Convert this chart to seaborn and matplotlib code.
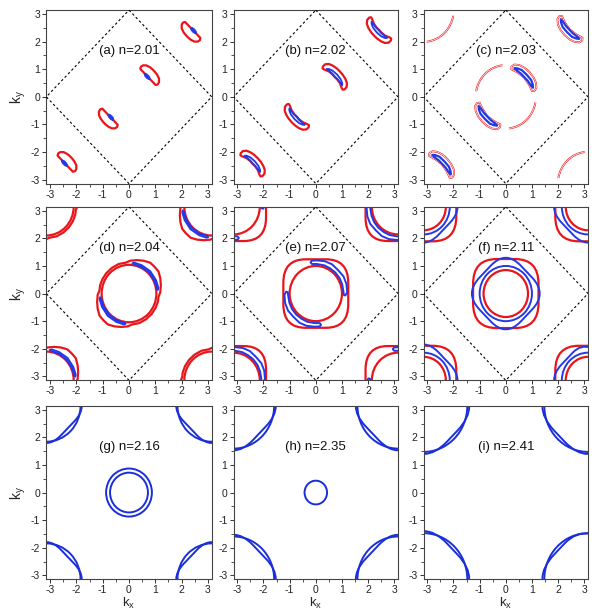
import numpy as np
import matplotlib
matplotlib.use("Agg")
import matplotlib.pyplot as plt
import seaborn as sns
from matplotlib.patches import Polygon, Ellipse, Arc, FancyBboxPatch
from matplotlib.transforms import Affine2D
from matplotlib.ticker import MultipleLocator

sns.set_theme(style="ticks")
plt.rcParams['font.family'] = ['Liberation Sans', 'DejaVu Sans']
plt.rcParams['axes.unicode_minus'] = False
plt.rcParams['mathtext.fontset'] = 'custom'
plt.rcParams['mathtext.rm'] = 'Liberation Sans'
plt.rcParams['mathtext.it'] = 'Liberation Sans'

PI = np.pi
RED = '#e8151b'
BLUE = '#2339e6'
DBLUE = '#1b2fd8'

panel_labels = ['(a) n=2.01', '(b) n=2.02', '(c) n=2.03',
                '(d) n=2.04', '(e) n=2.07', '(f) n=2.11',
                '(g) n=2.16', '(h) n=2.35', '(i) n=2.41']
tick_values = [-3, -2, -1, 0, 1, 2, 3]

# Brillouin-zone diamond
bz_kx = [0, PI, 0, -PI, 0]
bz_ky = [PI, 0, -PI, 0, PI]

# (a) half-moon hole pocket (first quadrant), red outline
a_red_kx = [0.43, 0.45, 0.53, 0.66, 0.80, 0.91, 0.98, 1.07, 1.14, 1.14, 1.09, 1.01]
a_red_ky = [1.01, 1.09, 1.14, 1.14, 1.07, 0.98, 0.91, 0.80, 0.66, 0.53, 0.45, 0.43]
# (a) small blue pocket: centre, length, width
a_blue_c = (0.69, 0.74)
a_blue_size = (0.30, 0.13)

# (b) banana pockets
b_red_kx = [0.26, 0.27, 0.36, 0.50, 0.65, 0.80, 0.92, 1.03, 1.13, 1.19, 1.18, 1.10, 1.03, 0.99, 0.92, 0.81, 0.72, 0.64, 0.50, 0.32]
b_red_ky = [1.03, 1.10, 1.18, 1.19, 1.13, 1.03, 0.92, 0.80, 0.65, 0.50, 0.36, 0.27, 0.26, 0.32, 0.50, 0.64, 0.72, 0.81, 0.92, 0.99]
b_blue_kx = [0.42, 0.50, 0.64, 0.81, 0.95, 1.01, 1.01, 0.94, 0.85, 0.73, 0.62, 0.50]
b_blue_ky = [1.01, 1.01, 0.95, 0.81, 0.64, 0.50, 0.42, 0.50, 0.62, 0.73, 0.85, 0.94]

# (c) banana pockets (double red line) + open arcs
c_red_kx = [0.21, 0.22, 0.33, 0.52, 0.72, 0.90, 1.05, 1.15, 1.17, 1.10, 1.00, 0.88, 0.70, 0.45]
c_red_ky = [1.00, 1.10, 1.17, 1.15, 1.05, 0.90, 0.72, 0.52, 0.33, 0.22, 0.21, 0.45, 0.70, 0.88]
c_blue_kx = [0.33, 0.45, 0.61, 0.80, 0.97, 1.03, 1.04, 0.93, 0.84, 0.71, 0.58, 0.45]
c_blue_ky = [1.04, 1.03, 0.97, 0.80, 0.61, 0.45, 0.33, 0.45, 0.58, 0.71, 0.84, 0.93]
c_arc_r = 1.15
c_arc_deg = (96, 170)

# (d) red: circle + lobed loop (half of it listed, other half by inversion), blue banana
d_red_circle_r = 1.04
d_red_kx = [1.12, 1.19, 1.21, 1.19, 1.12, 0.97, 0.80, 0.55, 0.30, 0.05, -0.12, -0.39, -0.65, -0.86, -1.01, -1.10]
d_red_ky = [-0.12, 0.05, 0.30, 0.55, 0.80, 0.97, 1.12, 1.19, 1.21, 1.19, 1.12, 1.07, 0.93, 0.74, 0.52, 0.29]
d_blue_kx = [1.10, 1.12, 1.03, 0.81, 0.48, 0.20, 0.13, 0.19, 0.45, 0.76, 0.97, 1.05]
d_blue_ky = [0.13, 0.20, 0.48, 0.81, 1.03, 1.12, 1.10, 1.05, 0.97, 0.76, 0.45, 0.19]

# (e) red: rounded square + circle, blue wide banana
e_red_outer = (1.24, 0.85)
e_red_inner_r = 1.00
e_blue_kx = [1.13, 1.20, 1.17, 1.06, 0.85, 0.62, 0.35, 0.05, -0.15, -0.20, -0.15, 0.05, 0.33, 0.55, 0.75, 0.91, 1.01, 1.06, 1.07]
e_blue_ky = [-0.07, 0.05, 0.35, 0.62, 0.85, 1.06, 1.17, 1.20, 1.19, 1.13, 1.07, 1.07, 1.02, 0.91, 0.76, 0.56, 0.33, 0.05, -0.05]

# (f)
f_red_inner_r = 0.85
f_red_outer = (1.25, 0.90)     # half width, corner rounding
f_blue_inner_r = 1.00
f_blue_outer = (1.12, 0.81)    # half width (rotated 45 deg), rounding

# (g)-(i) blue rings around Gamma and lenses at the corners
g_ring_r = [0.87, 0.72]
h_ring_r = [0.43]
i_ring_r = []
corner_d = [1.30, 1.55, 1.67]        # where lenses meet the zone edge
corner_flat = [1.15, 1.40, 1.55]     # diagonal reach of the flatter arc

corners = [(-PI, -PI), (-PI, PI), (PI, -PI), (PI, PI)]

W, H = 595, 612
fig = plt.figure(figsize=(W / 100, H / 100), dpi=100)
lefts = [46.3, 233.6, 423.6]
widths = [165.4, 164.4, 164.4]
tops = [10.1, 206.8, 405.8]
height = 173.5


def tr(ax, dx=0.0, dy=0.0, flip=False, rot=0.0):
    t = Affine2D().rotate_deg(rot)
    if flip:
        t = t.scale(-1, -1)
    return t.translate(dx, dy) + ax.transData


def everywhere(ax, factory):
    """Draw a shape at Gamma and at the four zone corners."""
    for off in [(0.0, 0.0)] + corners:
        factory(ax, off)


def poly_pair(kx, ky, color, lw, double=False):
    pts = np.column_stack([kx, ky])

    def f(ax, off):
        for flip in (False, True):
            if double:
                ax.add_patch(Polygon(pts, closed=True, fill=False, ec=color, lw=lw * 2.4,
                                     joinstyle='round', transform=tr(ax, *off, flip=flip)))
                ax.add_patch(Polygon(pts, closed=True, fill=False, ec='white', lw=lw * 0.9,
                                     joinstyle='round', transform=tr(ax, *off, flip=flip)))
            else:
                ax.add_patch(Polygon(pts, closed=True, fill=False, ec=color, lw=lw,
                                     joinstyle='round', transform=tr(ax, *off, flip=flip)))
    return f


def half_loop(kx, ky, color, lw):
    pts = np.column_stack([kx, ky])
    pts = np.vstack([pts, -pts])

    def f(ax, off):
        ax.add_patch(Polygon(pts, closed=True, fill=False, ec=color, lw=lw,
                             joinstyle='round', transform=tr(ax, *off)))
    return f


def circle(r, color, lw):
    def f(ax, off):
        ax.add_patch(Ellipse((0, 0), 2 * r, 2 * r, fill=False, ec=color, lw=lw, transform=tr(ax, *off)))
    return f


def rsquare(h, rc, color, lw, rot=0.0):
    def f(ax, off):
        ax.add_patch(FancyBboxPatch((-h, -h), 2 * h, 2 * h, boxstyle=f"round,pad=0,rounding_size={rc}",
                                    fill=False, ec=color, lw=lw, transform=tr(ax, *off, rot=rot)))
    return f


def draw_frame(ax, idx):
    r, c = divmod(idx, 3)
    ax.set_xlim(-PI, PI)
    ax.set_ylim(-PI, PI)
    ax.xaxis.set_minor_locator(MultipleLocator(0.5))
    ax.yaxis.set_minor_locator(MultipleLocator(0.5))
    ax.set_xticks(tick_values)
    ax.set_yticks(tick_values)
    ax.set_xticklabels([str(v) for v in tick_values])
    ax.set_yticklabels([str(v) for v in tick_values])
    ax.tick_params(which='major', direction='out', length=3.2, width=0.7, labelsize=7.5,
                   pad=1.2, colors='#333333', labelcolor='#222222')
    ax.tick_params(which='minor', direction='out', length=2, width=0.6, colors='#333333')
    for s in ax.spines.values():
        s.set_linewidth(0.8)
        s.set_color('#444444')
    ax.text(0, 1.65, panel_labels[idx], ha='center', va='center', fontsize=9.5, color='#111111')
    if c == 0:
        ax.set_ylabel(r'k$_\mathregular{y}$', fontsize=10, labelpad=2)
    else:
        ax.set_ylabel('')
    if r == 2:
        ax.set_xlabel(r'k$_\mathregular{x}$', fontsize=9.5, labelpad=0.3)
    else:
        ax.set_xlabel('')
    if r < 2:
        sns.lineplot(x=bz_kx, y=bz_ky, sort=False, estimator=None, ax=ax,
                     color='black', lw=0.8, zorder=5)
        ax.lines[-1].set_dashes([2.2, 2.2])


axes = []
for idx in range(9):
    r, c = divmod(idx, 3)
    ax = fig.add_axes([lefts[c] / W, 1 - (tops[r] + height) / H, widths[c] / W, height / H])
    axes.append(ax)

# (a)
ax = axes[0]
everywhere(ax, poly_pair(a_red_kx, a_red_ky, RED, 1.6))


def blob(ax, off):
    for flip in (False, True):
        ax.add_patch(Ellipse(a_blue_c, a_blue_size[0], a_blue_size[1], angle=-45,
                             fc=BLUE, ec=BLUE, lw=0.5, transform=tr(ax, *off, flip=flip)))


everywhere(ax, blob)

# (b)
ax = axes[1]
everywhere(ax, poly_pair(b_red_kx, b_red_ky, RED, 1.6))
everywhere(ax, poly_pair(b_blue_kx, b_blue_ky, BLUE, 1.3))

# (c)
ax = axes[2]
everywhere(ax, poly_pair(c_red_kx, c_red_ky, RED, 0.55, double=True))


def c_arcs(ax, off):
    for flip in (False, True):
        ax.add_patch(Arc((0, 0), 2 * c_arc_r, 2 * c_arc_r, theta1=c_arc_deg[0], theta2=c_arc_deg[1],
                         ec=RED, lw=1.35, transform=tr(ax, *off, flip=flip)))
        ax.add_patch(Arc((0, 0), 2 * c_arc_r, 2 * c_arc_r, theta1=c_arc_deg[0] - 1, theta2=c_arc_deg[1] + 1,
                         ec='white', lw=0.5, transform=tr(ax, *off, flip=flip)))


everywhere(ax, c_arcs)
everywhere(ax, poly_pair(c_blue_kx, c_blue_ky, BLUE, 1.6))

# (d)
everywhere(axes[3], circle(d_red_circle_r, RED, 1.6))
everywhere(axes[3], half_loop(d_red_kx, d_red_ky, RED, 1.6))
everywhere(axes[3], poly_pair(d_blue_kx, d_blue_ky, BLUE, 1.3))

# (e)
everywhere(axes[4], rsquare(*e_red_outer, RED, 1.6))
everywhere(axes[4], circle(e_red_inner_r, RED, 1.6))
everywhere(axes[4], poly_pair(e_blue_kx, e_blue_ky, BLUE, 1.4))

# (f)
everywhere(axes[5], rsquare(*f_red_outer, RED, 1.6))
everywhere(axes[5], circle(f_red_inner_r, RED, 1.6))
everywhere(axes[5], rsquare(*f_blue_outer, BLUE, 1.4, rot=45))
everywhere(axes[5], circle(f_blue_inner_r, BLUE, 1.4))

# (g)-(i)
for k, radii in enumerate([g_ring_r, h_ring_r, i_ring_r]):
    ax = axes[6 + k]
    for rr in radii:
        ax.add_patch(Ellipse((0, 0), 2 * rr, 2 * rr, fill=False, ec=DBLUE, lw=1.4))
    d = corner_d[k]
    a = corner_flat[k]
    rc = (a * np.sqrt(2) - d) / (np.sqrt(2) - 1)
    for off in corners:
        ax.add_patch(Ellipse(off, 2 * d, 2 * d, fill=False, ec=DBLUE, lw=1.4))
        rsquare(a, max(rc, 0.01), DBLUE, 1.4, rot=45)(ax, off)

for idx, ax in enumerate(axes):
    draw_frame(ax, idx)

fig.savefig('out.png', dpi=100, facecolor='white')
